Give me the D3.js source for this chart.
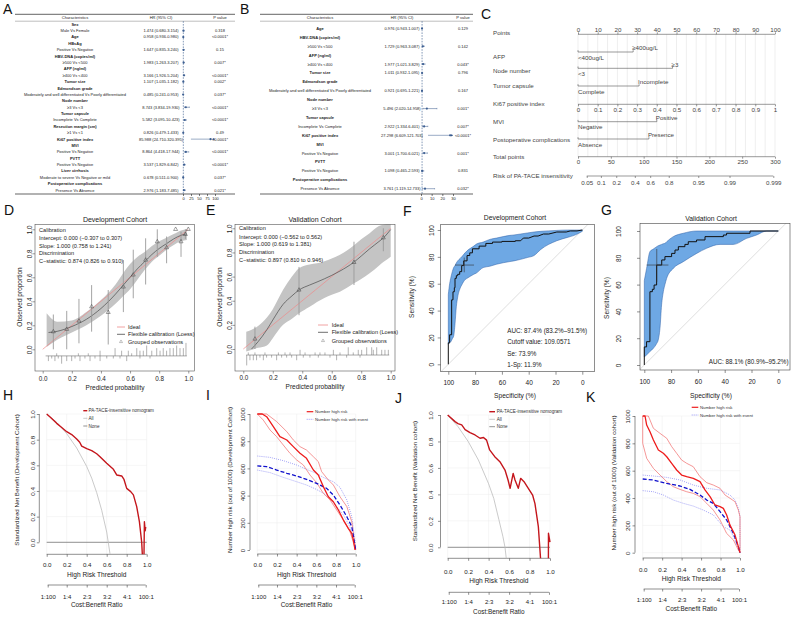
<!DOCTYPE html>
<html><head><meta charset="utf-8">
<script src="https://cdn.jsdelivr.net/npm/d3@7/dist/d3.min.js"></script>
<style>html,body{margin:0;padding:0;background:#fff;}svg{display:block;}</style>
</head><body>
<script>
// ================= DATA =================
// ---- A: univariate Cox ----
const aLabels = ["Sex","Male Vs Female","Age","HBsAg","Positive Vs Negative","HBV-DNA (copies/ml)","≥500 Vs <500","AFP (ng/ml)","≥400 Vs <400","Tumor size","Edmondson grade","Moderately and well differentiated Vs Poorly differentiated","Node number","≥3 Vs <3","Tumor capsule","Incomplete Vs Complete","Resection margin (cm)","≥1 Vs <1","Ki67 positive index","MVI","Positive Vs Negative","PVTT","Positive Vs Negative","Liver cirrhosis","Moderate to severe Vs Negative or mild","Postoperative complications","Presence Vs Absence"];
const aBold = [1,0,1,1,0,1,0,1,0,1,1,0,1,0,1,0,1,0,1,1,0,1,0,1,0,1,0];
const aHR = [null,1.474,0.958,null,1.647,null,1.983,null,3.166,1.107,null,0.485,null,8.743,null,5.582,null,0.826,85.988,null,8.864,null,3.537,null,0.678,null,2.976];
const aLo = [null,0.680,0.936,null,0.835,null,1.263,null,1.926,1.035,null,0.241,null,3.834,null,3.095,null,0.479,24.710,null,4.418,null,1.829,null,0.511,null,1.183];
const aHi = [null,3.154,0.980,null,3.240,null,3.207,null,5.204,1.182,null,0.953,null,19.930,null,10.423,null,1.433,320.395,null,17.944,null,6.842,null,0.900,null,7.485];
const aP = [null,"0.318","<0.0001*",null,"0.15",null,"0.007*",null,"<0.0001*","0.002*",null,"0.037*",null,"<0.0001*",null,"<0.0001*",null,"0.49","<0.0001*",null,"<0.0001*",null,"<0.0001*",null,"0.037*",null,"0.021*"];
const aTicks = [0,25,50,75,100];

// ---- B: multivariate Cox ----
const bLabels = ["Age","HBV-DNA (copies/ml)","≥500 Vs <500","AFP (ng/ml)","≥400 Vs <400","Tumor size","Edmondson grade","Moderately and well differentiated Vs Poorly differentiated","Node number","≥3 Vs <3","Tumor capsule","Incomplete Vs Complete","Ki67 positive index","MVI","Positive Vs Negative","PVTT","Positive Vs Negative","Postoperative complications","Presence Vs Absence"];
const bBold = [1,1,0,1,0,1,1,0,1,0,1,0,1,1,0,1,0,1,0];
const bHR = [0.976,null,1.729,null,1.977,1.011,null,0.921,null,5.496,null,2.922,27.298,null,3.001,null,1.098,null,3.761];
const bLo = [0.943,null,0.963,null,1.021,0.932,null,0.695,null,2.020,null,1.334,6.609,null,1.700,null,0.465,null,1.119];
const bHi = [1.007,null,3.087,null,3.829,1.095,null,1.221,null,14.958,null,6.401,121.703,null,6.021,null,2.593,null,12.733];
const bP = ["0.129",null,"0.142",null,"0.043*","0.796",null,"0.167",null,"0.001*",null,"0.007*","<0.0001*",null,"0.001*",null,"0.831",null,"0.032*"];
const bTicks = [0,10,20,30];

// ---- C: nomogram ----
const nomRowNames = ["Points","AFP","Node number","Tumor capsule","Ki67 positive index","MVI","Postoperative complications","Total points","Risk of PA-TACE insensitivity"];
const catNames = ["AFP","Node number","Tumor capsule","MVI","Postoperative complications"];
const catLow = ["<400ug/L","<3","Complete","Negative","Absence"];
const catHigh = ["≥400ug/L","≥3","Incomplete","Positive","Presence"];
const catHighPts = [28,48,31,40,36];
const pointsTicks = [0,10,20,30,40,50,60,70,80,90,100];
const ki67Ticks = [0,0.1,0.2,0.3,0.4,0.5,0.6,0.7,0.8,0.9,1];
const ki67MaxPts = 100;
const totalTicks = [0,50,100,150,200,250,300];
const riskTicks = [0.05,0.1,0.2,0.4,0.6,0.8,0.95,0.99,0.999];
const riskIntercept = -3.405, riskSlope = 0.03467;   // logit(risk) = a + b * total points

// ---- D: calibration development ----
const dLoP = [0.04,0.1,0.2,0.3,0.4,0.5,0.55,0.6,0.65,0.7,0.75,0.8,0.85,0.9,0.95,0.99];
const dLoV = [0.14,0.15,0.19,0.25,0.34,0.46,0.53,0.60,0.67,0.73,0.79,0.84,0.88,0.92,0.95,0.96];
const dBandP = [0.027,0.1,0.2,0.3,0.4,0.5,0.55,0.6,0.65,0.7,0.75,0.8,0.85,0.9,0.95,0.99];
const dBandHi = [0.30,0.23,0.24,0.31,0.41,0.54,0.63,0.71,0.77,0.81,0.86,0.90,0.93,0.96,0.99,1.00];
const dBandLo = [0.02,0.08,0.14,0.20,0.28,0.38,0.44,0.50,0.58,0.66,0.73,0.78,0.83,0.87,0.90,0.91];
const dGP = [0.073,0.165,0.249,0.336,0.45,0.554,0.622,0.707,0.787,0.851,0.913,0.95,0.98,1.0];
const dGV = [0.147,0.167,0.236,0.355,0.308,0.52,0.62,0.744,0.897,0.847,1.0,0.897,0.958,1.0];
const dGLo = [0.0,0.0,0.05,0.147,0.04,0.31,0.425,0.54,0.77,0.717,1.0,0.77,0.92,1.0];
const dGHi = [0.29,0.32,0.42,0.535,0.494,0.744,0.83,0.925,1.0,0.94,1.0,0.98,1.0,1.0];
const dRugUpP = [0.096,0.245,0.313,0.394,0.497,0.542,0.588,0.611,0.646,0.668,0.691,0.714,0.749,0.783,0.806,0.828,0.851,0.874,0.897,0.92,0.943,0.966,0.984];
const dRugUpN = [1,1,1,2,3,2,2,1,3,2,2,4,2,3,2,3,2,3,3,4,3,3,5];
const dRugDnP = [0.039,0.062,0.084,0.107,0.13,0.165,0.199,0.222,0.256,0.29,0.325,0.359,0.394,0.44,0.485,0.531,0.577,0.668,0.737];
const dRugDnN = [2,1,2,1,3,2,2,1,2,1,2,1,2,1,1,1,2,1,1];
const dIntercept = [0.000,-0.307,0.307], dSlope = [1.000,0.758,1.241], dCstat = [0.874,0.826,0.910];

// ---- E: calibration validation ----
const eLoP = [0.056,0.1,0.16,0.2,0.27,0.33,0.378,0.45,0.5,0.6,0.656,0.751,0.8,0.857,0.92,0.95,1.0];
const eLoV = [0.0,0.06,0.16,0.24,0.37,0.44,0.489,0.53,0.555,0.61,0.646,0.72,0.77,0.83,0.89,0.92,0.99];
const eBandP = [0.02,0.1,0.16,0.2,0.27,0.33,0.378,0.45,0.5,0.6,0.656,0.751,0.8,0.857,0.92,0.95,1.0];
const eBandHi = [0.143,0.19,0.26,0.33,0.49,0.60,0.67,0.70,0.71,0.75,0.78,0.86,0.91,0.96,1.02,1.03,1.04];
const eBandLo = [-0.02,0.01,0.03,0.09,0.2,0.25,0.296,0.35,0.39,0.45,0.475,0.545,0.58,0.627,0.69,0.72,0.765];
const eGP = [0.079,0.378,0.751,0.95];
const eGV = [0.083,0.489,0.718,0.922];
const eGLo = [0.0,0.28,0.53,0.81];
const eGHi = [0.185,0.68,0.889,1.0];
const eRugUpP = [0.034,0.079,0.147,0.238,0.283,0.317,0.385,0.419,0.487,0.52,0.554,0.611,0.656,0.712,0.746,0.78,0.803,0.837,0.871,0.882,0.905,0.939,0.961,0.984];
const eRugUpN = [1,1,1,1,1,1,2,1,1,1,1,2,1,3,1,2,2,3,3,2,3,2,2,2];
const eRugDnP = [0.023,0.045,0.068,0.09,0.113,0.136,0.158,0.192,0.226,0.26,0.294,0.328,0.362,0.407,0.452,0.509,0.588,0.633,0.701,0.792];
const eRugDnN = [4,2,2,2,1,2,1,1,2,1,1,1,2,1,1,1,1,2,1,1];
const eIntercept = [0.000,-0.562,0.562], eSlope = [1.000,0.619,1.381], eCstat = [0.897,0.810,0.946];

// ---- F: ROC development ----
const fSpec = [100,100,99,99,97.5,97.5,96.5,96.5,95.5,95.5,95,95,94,94,93,93,91.5,91.5,90,90,88.5,88.5,86,86,84,84,82,82,77,77,72,72,67,67,60,60,50,50,46,44,40,36,33,29,25,19,12,9,4,0];
const fSens = [0,16,16,22,22,48,48,54,54,57,57,64,64,66,66,67,67,69,69,73.5,73.5,77,77,81,81,83,83,86,86,88,88,90,90,91,91,91.5,91.5,92,92,94,94,95.5,95.5,97,97,98.5,98.5,99.3,99.3,100];
const fBandSpec = [100,99,98,97,96,95,94,93,91,90,87.5,86,81,79,74,69,64,54,51,41,36,31,19,11,6,0];
const fBandLo = [15,16,17,19,21,30,43,50,57,59,63,64,67,68,72,73,74.5,76.5,77,79.5,81,85.5,92,94.5,96,99];
const fBandHi = [52,60,65,69,72,73.5,75.5,77,79,80,83,84.5,88,89.5,91,93,94,96,96.3,97.8,98.5,99,99.7,100,100,100];
const fAUC = [87.4,83.2,91.5], fCutoff = 109.0571, fSe = 73.9, fOneMinusSp = 11.9;
const fSeCI = [68.5,79.5], fSpCI = [80.8,95];

// ---- G: ROC validation ----
const gSpec = [100,100,98.3,98.3,95.8,95.8,94,94,92.7,92.7,90.8,90.8,87,87,84.6,84.6,79.6,79.6,77.1,77.1,74.6,74.6,69.7,69.7,67.2,67.2,61,61,54.7,54.7,41,41,38.6,38.6,21.1,21.1,0];
const gSens = [0,13.5,13.5,17.4,17.4,54.7,54.7,56.5,56.5,59.7,59.7,74.6,74.6,78.4,78.4,80.9,80.9,83.3,83.3,85.8,85.8,88.3,88.3,90,90,92,92,93.3,93.3,95.8,95.8,97,97,98.3,98.3,100,100];
const gBandSpec = [100,98.3,95.8,93.3,90.8,89.6,88.3,87.1,85.8,84.6,83.3,78.4,70.9,60.9,53.5,43.5,33.6,23.6,16.2,8.7,0];
const gBandLo = [6,7.5,10,12.4,16,18.7,27.4,44.8,54.7,60,64.7,72.1,77.1,83.3,87.1,90,90,94.5,97,100,100];
const gBandHi = [63,72,84.6,86.5,88.3,89,89.5,90,90.5,90.8,92,95.8,98.3,100,100,100,100,100,100,100,100];
const gAUC = [88.1,80.9,95.2], gSe = 74.6, gSp = 90.7;
const gSeCI = [62,86.6], gSpCI = [82,98.2];

// ---- H/J: decision curves ----
const cbThr = [0.01,0.2,0.4,0.6,0.8,0.99];
const cbLab = ["1:100","1:4","2:3","3:2","4:1","100:1"];
const hNomT = [0,0.05,0.1,0.15,0.2,0.25,0.3,0.33,0.35,0.4,0.45,0.5,0.533,0.6,0.667,0.7,0.75,0.773,0.8,0.84,0.867,0.9,0.927,0.95,0.96,0.972,0.977,0.985,0.99];
const hNomV = [1.0,0.965,0.927,0.895,0.862,0.84,0.805,0.78,0.75,0.73,0.714,0.69,0.667,0.616,0.569,0.525,0.517,0.49,0.42,0.395,0.37,0.278,0.161,0.0,-0.15,-0.15,0.16,0.09,0.12];
const hAllT = [0,0.1,0.2,0.3,0.4,0.45,0.5,0.55,0.6,0.633];
const hAllV = [1,0.935,0.847,0.735,0.591,0.50,0.387,0.25,0.08,-0.09];
const jNomT = [0,0.072,0.1,0.137,0.17,0.218,0.267,0.316,0.35,0.38,0.41,0.46,0.51,0.56,0.59,0.61,0.64,0.658,0.69,0.713,0.746,0.788,0.83,0.853,0.886,0.909,0.95,0.984,0.985,1.0];
const jNomV = [1.0,0.95,0.935,0.925,0.89,0.867,0.849,0.824,0.83,0.81,0.736,0.685,0.647,0.584,0.509,0.446,0.559,0.509,0.446,0.521,0.496,0.446,0.395,0.33,0.156,-0.1,-0.4,-0.2,0.106,0.04];
const jAllT = [0,0.1,0.2,0.3,0.4,0.45,0.5,0.54,0.56,0.575];
const jAllV = [1,0.913,0.80,0.66,0.48,0.37,0.21,0.08,0.0,-0.1];

// ---- I/K: clinical impact curves ----
const iRedT = [0,0.05,0.095,0.163,0.23,0.3,0.366,0.434,0.5,0.57,0.62,0.671,0.722,0.773,0.824,0.875,0.925,0.96,0.976,0.993];
const iRedV = [1000,1000,980,907,833,809,760,711,674,588,551,466,392,355,294,220,159,123,74,0];
const iRedHiT = [0,0.095,0.197,0.3,0.366,0.434,0.5,0.57,0.62,0.654,0.722,0.773,0.84,0.91,0.96,1];
const iRedHiV = [1000,1000,944,870,809,760,735,686,650,576,515,478,392,319,208,0];
const iRedLoT = [0,0.06,0.13,0.197,0.264,0.332,0.4,0.468,0.536,0.603,0.671,0.739,0.807,0.875,0.942,1];
const iRedLoV = [1000,956,882,833,772,711,662,625,551,495,417,368,294,220,135,0];
const iBlueT = [0,0.095,0.197,0.3,0.4,0.5,0.603,0.705,0.773,0.84,0.91,0.96,1];
const iBlueV = [618,613,588,564,544,520,490,453,404,331,245,172,0];
const iBlueHiT = [0,0.13,0.264,0.4,0.5,0.6,0.67,0.773,0.84,0.91,0.96,1];
const iBlueHiV = [691,681,657,625,593,564,534,502,461,368,245,25];
const iBlueLoT = [0,0.13,0.264,0.4,0.5,0.6,0.705,0.807,0.875,0.94,1];
const iBlueLoV = [588,569,534,502,478,446,404,319,257,172,0];

const kRedT = [0,0.024,0.041,0.075,0.11,0.161,0.212,0.247,0.298,0.349,0.4,0.452,0.52,0.589,0.64,0.692,0.743,0.795,0.829,0.863,0.897,0.949,0.983,1];
const kRedV = [1000,1000,934,885,824,751,727,702,654,605,568,556,544,520,459,410,349,337,324,276,202,129,44,0];
const kRedHiT = [0,0.058,0.11,0.178,0.247,0.298,0.349,0.4,0.452,0.52,0.589,0.658,0.726,0.795,0.846,0.897,0.949,0.983,1,1];
const kRedHiV = [1000,1000,910,873,837,776,727,678,654,629,556,512,495,471,422,398,373,312,263,0];
const kRedLoT = [0,0,0.041,0.11,0.178,0.247,0.315,0.384,0.452,0.52,0.589,0.658,0.726,0.795,0.863,0.932,0.983,1];
const kRedLoV = [1000,800,690,617,568,520,483,463,446,434,410,361,312,239,141,93,20,0];
const kBlueT = [0,0.11,0.247,0.384,0.486,0.589,0.658,0.726,0.795,0.863,0.932,0.983,1];
const kBlueV = [539,532,507,488,463,422,385,361,300,239,141,44,0];
const kBlueHiT = [0,0.11,0.247,0.384,0.52,0.658,0.795,0.897,0.949,0.983,1,1];
const kBlueHiV = [568,561,551,532,495,471,459,422,385,324,263,0];
const kBlueLoT = [0,0.11,0.212,0.315,0.418,0.52,0.623,0.726,0.829,0.897,0.949,0.983,1];
const kBlueLoV = [454,446,422,385,361,341,312,276,190,166,93,32,0];

// ================= DRAWING =================
const FONT = "'Liberation Sans', Arial, Helvetica, sans-serif";
const svg = d3.select("body").append("svg").attr("width",794).attr("height",617).attr("font-family",FONT);
svg.append("rect").attr("width",794).attr("height",617).attr("fill","#fff");
const f3 = d3.format(".3f"), f1 = d3.format(".1f");
let clipN = 0;
function clipRect(x,y,w,h){const id="cp"+(clipN++);svg.append("clipPath").attr("id",id).append("rect").attr("x",x).attr("y",y).attr("width",w).attr("height",h);return `url(#${id})`;}
function T(g,x,y,s,o={}){
  const t=g.append("text").attr("x",x).attr("y",y).text(s).attr("font-size",o.fs||6.5).attr("fill",o.fill||"#222").attr("text-anchor",o.a||"start");
  if(o.w) t.attr("font-weight",o.w);
  if(o.rot) t.attr("transform",`rotate(${o.rot},${x},${y})`);
  return t;
}
function L(g,x1,y1,x2,y2,c="#333",w=0.6,dash=null){
  const l=g.append("line").attr("x1",x1).attr("y1",y1).attr("x2",x2).attr("y2",y2).attr("stroke",c).attr("stroke-width",w);
  if(dash) l.attr("stroke-dasharray",dash);
  return l;
}
function rAxis(g,orient,scale,vals,fmt,pos,o={}){
  const ts=o.ts??2.5, pad=o.pad??1.5, fs=o.fs??6.5, col=o.col??"#333";
  const gen={bottom:d3.axisBottom,left:d3.axisLeft,top:d3.axisTop}[orient](scale).tickValues(vals).tickSize(ts).tickPadding(pad).tickSizeOuter(0);
  if(fmt) gen.tickFormat(fmt);
  const horiz = orient!=="left";
  const a=g.append("g").attr("transform",horiz?`translate(0,${pos})`:`translate(${pos},0)`).call(gen);
  a.attr("font-family",null).attr("font-size",null);
  a.select(".domain").remove();
  if(o.line!==false){
    const v0=scale(vals[0]), v1=scale(vals[vals.length-1]);
    if(horiz) L(a,v0,0,v1,0,col,o.lw??0.6); else L(a,0,v0,0,v1,col,o.lw??0.6);
  }
  a.selectAll(".tick line").attr("stroke",col).attr("stroke-width",o.lw??0.6);
  a.selectAll("text").attr("font-size",fs).attr("fill",o.tcol??"#222").attr("font-family",FONT);
  if(orient==="left"){
    a.selectAll("text").attr("x",null).attr("dy",null).attr("text-anchor","middle").attr("transform",`translate(${-(ts+pad)},0) rotate(-90)`);
  }
  return a;
}
function idx(n){return d3.range(n);}

// ---- panel letters ----
[["A",3,13.5],["B",240,13.5],["C",481,18.5],["D",4,215],["E",206,215],["F",403,215.5],["G",601,215],["H",3,400],["I",206,400],["J",395,403],["K",586,402]]
 .forEach(([s,x,y])=>T(svg,x,y,s,{fs:14,fill:"#111"}));

// ---- A & B forest tables ----
function forest(Lo,labels,bold,hr,lo,hi,pv,ticks){
  const g=svg.append("g");
  const xs=d3.scaleLinear().domain([ticks[0],ticks[ticks.length-1]]).range(Lo.rng);
  const top=ticks[ticks.length-1];
  L(g,Lo.x0,Lo.yTop,Lo.x1,Lo.yTop,"#222",0.7);
  L(g,Lo.x0,Lo.yHL,Lo.x1,Lo.yHL,"#444",0.35);
  L(g,Lo.x0,Lo.yBot,Lo.x1,Lo.yBot,"#222",0.7);
  const fs=Lo.fs;
  T(g,Lo.cLab,Lo.yHead,"Characteristics",{fs,a:"middle"});
  T(g,Lo.cHR,Lo.yHead,"HR (95% CI)",{fs,a:"middle"});
  T(g,Lo.cP,Lo.yHead,"P value",{fs,a:"middle"});
  L(g,xs(1),Lo.yHL,xs(1),Lo.yBot,"#34578a",0.6,"1.6,1.2");
  labels.forEach((lab,i)=>{
    const y=Lo.y0+i*Lo.dy, by=y+fs*0.35;
    T(g,Lo.cLab,by,lab,{fs,a:"middle",w:bold[i]?"bold":null});
    if(hr[i]==null) return;
    T(g,Lo.cHR,by,`${f3(hr[i])} (${f3(lo[i])}-${f3(hi[i])})`,{fs,a:"middle"});
    T(g,Lo.cP,by,pv[i],{fs,a:"middle"});
    const xa=xs(lo[i]), xb=xs(Math.min(hi[i],top));
    L(g,xa,y,xb,y,"#34578a",0.5);
    if(hi[i]>top) g.append("path").attr("d",`M${xb},${y}l-2,-1.1v2.2z`).attr("fill","#34578a");
    else { L(g,xa,y-0.7,xa,y+0.7,"#34578a",0.4); L(g,xb,y-0.7,xb,y+0.7,"#34578a",0.4); }
    g.append("circle").attr("cx",xs(hr[i])).attr("cy",y).attr("r",1.1).attr("fill","#3d5f92");
  });
  rAxis(g,"bottom",xs,ticks,d3.format("d"),Lo.yBot,{ts:2,pad:1.2,fs:4,col:"#222",line:false});
}
forest({x0:15,x1:235,yTop:14.3,yHead:19.0,yHL:21.2,yBot:194,y0:24.3,dy:6.38,cLab:75,cHR:161,cP:220,rng:[183,215],fs:4},aLabels,aBold,aHR,aLo,aHi,aP,aTicks);
forest({x0:260,x1:473,yTop:14.3,yHead:19.0,yHL:21.2,yBot:194,y0:28.5,dy:8.9,cLab:320,cHR:402,cP:463,rng:[421,453],fs:4},bLabels,bBold,bHR,bLo,bHi,bP,bTicks);

// ---- C nomogram ----
(function(){
  const g=svg.append("g");
  const px=d3.scaleLinear().domain([0,100]).range([578,775]);
  const tx=d3.scaleLinear().domain([0,300]).range([578,775]);
  const col="#555", fs=6.2, tfs=6.2;
  d3.range(0,100.01,5).forEach(v=>L(g,px(v),34.3,px(v),156.7,"#dcdcdc",0.5));
  const labY=[33.3,56.7,70.7,86,104.3,121.7,140,157,176];
  nomRowNames.forEach((s,i)=>T(g,493,labY[i]+fs*0.35,s,{fs,fill:"#444"}));
  rAxis(g,"top",px,pointsTicks,d3.format("d"),34.3,{ts:2,pad:0.3,fs:tfs,col,tcol:"#444"});
  const catY=[52,68.3,86,121.7,139];
  catNames.forEach((nm,i)=>{
    const y=catY[i], xe=px(catHighPts[i]);
    L(g,px(0),y,xe,y,col,0.6);
    L(g,px(0),y,px(0),y-1.8,col,0.6); L(g,xe,y,xe,y-1.8,col,0.6);
    T(g,px(0),y+7.6,catLow[i],{fs:tfs,fill:"#444"});
    T(g,xe-1,y-1.8,catHigh[i],{fs:tfs,fill:"#444"});
  });
  const kx=d3.scaleLinear().domain([0,1]).range([px(0),px(ki67MaxPts)]);
  rAxis(g,"bottom",kx,ki67Ticks,d=>(d===0||d===1)?d3.format("d")(d):f1(d),104.3,{ts:2,pad:1.4,fs:tfs,col,tcol:"#444"});
  rAxis(g,"bottom",tx,totalTicks,d3.format("d"),156.7,{ts:2,pad:0.8,fs:tfs,col,tcol:"#444"});
  const lx=d3.scaleLinear().domain([riskIntercept,riskIntercept+riskSlope*300]).range(tx.range());
  const logit=p=>Math.log(p/(1-p));
  rAxis(g,"bottom",lx,riskTicks.map(logit),(d,i)=>String(riskTicks[i]),176,{ts:2,pad:2.8,fs:tfs,col,tcol:"#444"});
})();

// ---- D / E calibration ----
function calib(Lc,d){
  const g=svg.append("g");
  const x=d3.scaleLinear().domain([0,1]).range([Lc.x0,Lc.x1]);
  const y=d3.scaleLinear().domain([0,1]).range([Lc.y0,Lc.y1]);
  const pg=g.append("g").attr("clip-path",clipRect(Lc.fx0,Lc.fy0,Lc.fx1-Lc.fx0,Lc.fy1-Lc.fy0));
  pg.append("path").attr("d",d3.area().x(i=>x(d.bandP[i])).y0(i=>y(d.bandLo[i])).y1(i=>y(d.bandHi[i])).curve(d3.curveMonotoneX)(idx(d.bandP.length))).attr("fill","#c4c4c4");
  pg.append("path").attr("d",d3.line().x(v=>x(v)).y(v=>y(v))([0,1])).attr("stroke","#ee8a8a").attr("stroke-width",0.7).attr("fill","none");
  pg.append("path").attr("d",d3.line().x(i=>x(d.loP[i])).y(i=>y(d.loV[i])).curve(d3.curveMonotoneX)(idx(d.loP.length))).attr("stroke","#4a4a4a").attr("stroke-width",0.7).attr("fill","none");
  d.gP.forEach((p,i)=>{ if(d.gHi[i]>d.gLo[i]) L(pg,x(p),y(d.gLo[i]),x(p),y(d.gHi[i]),"#9a9a9a",0.9); });
  d.gP.forEach((p,i)=>pg.append("path").attr("d",d3.symbol(d3.symbolTriangle,7)()).attr("transform",`translate(${x(p)},${y(d.gV[i])})`).attr("fill","none").attr("stroke","#444").attr("stroke-width",0.5));
  const ry=y(d.rugBase), rl=d3.scaleLinear().domain([0,1]).range([0,2.6]);
  L(pg,x(0.02),ry,x(0.99),ry,"#555",0.5);
  d.upP.forEach((p,i)=>L(pg,x(p),ry,x(p),ry-rl(d.upN[i]),"#666",0.5));
  d.dnP.forEach((p,i)=>L(pg,x(p),ry,x(p),ry+rl(d.dnN[i]),"#666",0.5));
  g.append("rect").attr("x",Lc.fx0).attr("y",Lc.fy0).attr("width",Lc.fx1-Lc.fx0).attr("height",Lc.fy1-Lc.fy0).attr("fill","none").attr("stroke","#555").attr("stroke-width",0.6);
  const tk=[0,0.2,0.4,0.6,0.8,1];
  rAxis(g,"bottom",x,tk,f1,Lc.fy1,{ts:2.5,pad:Lc.xpad,fs:6.3,col:"#555",line:false});
  rAxis(g,"left",y,tk,f1,Lc.fx0,{ts:2.5,pad:0.2,fs:6.3,col:"#555",line:false});
  T(g,Lc.cx,Lc.titleY,d.title,{fs:7,a:"middle"});
  T(g,Lc.cx,Lc.xlabY,"Predicted probability",{fs:6.5,a:"middle"});
  T(g,Lc.ylabX,Lc.ylabCY,"Observed proportion",{fs:6.5,a:"middle",rot:-90});
  const st=["Calibration",`Intercept: ${f3(d.icpt[0])} (${f3(d.icpt[1])} to ${f3(d.icpt[2])})`,`Slope: ${f3(d.slope[0])} (${f3(d.slope[1])} to ${f3(d.slope[2])})`,"Discrimination",`C\u2212statistic: ${f3(d.cstat[0])} (${f3(d.cstat[1])} to ${f3(d.cstat[2])})`];
  st.forEach((s,i)=>T(g,Lc.tx,Lc.ty[i]+2,s,{fs:5.6}));
  const ly=Lc.legY;
  L(g,Lc.legL[0],ly[0],Lc.legL[1],ly[0],"#ee8a8a",0.8);
  L(g,Lc.legL[0],ly[1],Lc.legL[1],ly[1],"#4a4a4a",0.8);
  g.append("path").attr("d",d3.symbol(d3.symbolTriangle,4)()).attr("transform",`translate(${(Lc.legL[0]+Lc.legL[1])/2},${ly[2]})`).attr("fill","none").attr("stroke","#888").attr("stroke-width",0.5);
  ["Ideal","Flexible calibration (Loess)","Grouped observations"].forEach((s,i)=>T(g,Lc.legT,ly[i]+2,s,{fs:5.6}));
}
calib({fx0:35,fy0:224.3,fx1:194.3,fy1:371,x0:42.7,x1:188.3,y0:349.3,y1:229.3,cx:115,titleY:222.3,xlabY:390,ylabX:22.3,ylabCY:297,xpad:3,tx:39,ty:[230,237.7,245.7,253.3,261],legL:[117,125],legT:128,legY:[327,334.3,341.7]},
  {title:"Development Cohort",bandP:dBandP,bandLo:dBandLo,bandHi:dBandHi,loP:dLoP,loV:dLoV,gP:dGP,gV:dGV,gLo:dGLo,gHi:dGHi,rugBase:-0.055,upP:dRugUpP,upN:dRugUpN,dnP:dRugDnP,dnN:dRugDnN,icpt:dIntercept,slope:dSlope,cstat:dCstat});
calib({fx0:235,fy0:224.3,fx1:395,fy1:371,x0:243.3,x1:390.7,y0:349,y1:228.3,cx:315,titleY:222.3,xlabY:389,ylabX:222.3,ylabCY:297,xpad:2,tx:239,ty:[228.3,236.7,244.3,252.3,260],legL:[318,328],legT:331.7,legY:[325,332.3,340.7]},
  {title:"Validation Cohort",bandP:eBandP,bandLo:eBandLo,bandHi:eBandHi,loP:eLoP,loV:eLoV,gP:eGP,gV:eGV,gLo:eGLo,gHi:eGHi,rugBase:-0.05,upP:eRugUpP,upN:eRugUpN,dnP:eRugDnP,dnN:eRugDnN,icpt:eIntercept,slope:eSlope,cstat:eCstat});

// ---- F / G ROC ----
function roc(Lr,d){
  const g=svg.append("g");
  const x=d3.scaleLinear().domain([100,0]).range([Lr.x100,Lr.x0]);
  const y=d3.scaleLinear().domain([0,100]).range([Lr.y0,Lr.y100]);
  const pg=g.append("g").attr("clip-path",clipRect(Lr.fx0,Lr.fy0,Lr.fx1-Lr.fx0,Lr.fy1-Lr.fy0));
  L(pg,x(130),y(-30),x(-30),y(130),"#c8c8c8",0.6);
  pg.append("path").attr("d",d3.area().x(i=>x(d.bSpec[i])).y0(i=>y(d.bLo[i])).y1(i=>y(d.bHi[i])).curve(d3.curveMonotoneX)(idx(d.bSpec.length))).attr("fill","#6ea8e4").attr("stroke","#2d5fa6").attr("stroke-width",0.5);
  pg.append("path").attr("d",d3.line().x(i=>x(d.spec[i])).y(i=>y(d.sens[i]))(idx(d.spec.length))).attr("fill","none").attr("stroke","#111").attr("stroke-width",1);
  L(pg,x(d.spCI[0]),y(d.se),x(d.spCI[1]),y(d.se),"#333",0.6);
  L(pg,x(d.sp),y(d.seCI[0]),x(d.sp),y(d.seCI[1]),"#333",0.6);
  g.append("rect").attr("x",Lr.fx0).attr("y",Lr.fy0).attr("width",Lr.fx1-Lr.fx0).attr("height",Lr.fy1-Lr.fy0).attr("fill","none").attr("stroke","#444").attr("stroke-width",0.6);
  rAxis(g,"bottom",x,[100,80,60,40,20,0],d3.format("d"),Lr.fy1,{ts:3,pad:Lr.xpad,fs:6.5,col:"#444",line:false});
  rAxis(g,"left",y,[0,20,40,60,80,100],d3.format("d"),Lr.fx0,{ts:3,pad:Lr.ypad,fs:6.5,col:"#444",line:false});
  T(g,Lr.cx,Lr.titleY,d.title,{fs:6.8,a:"middle"});
  T(g,Lr.cx,Lr.xlabY,"Specificity (%)",{fs:6.6,a:"middle"});
  T(g,Lr.ylabX,Lr.ylabCY,"Sensitivity (%)",{fs:6.6,a:"middle",rot:-90});
  d.texts.forEach((s,i)=>T(g,Lr.tx,Lr.ty[i]+2.2,s,{fs:6.3,a:Lr.ta}));
}
const pct=v=>f1(v)+"%";
roc({fx0:440.7,fy0:224.3,fx1:594.3,fy1:371.7,x100:448.3,x0:582.3,y0:364.3,y100:230,cx:515,titleY:220,xlabY:397.5,ylabX:414,ylabCY:297,xpad:5.2,ypad:3.4,tx:507.3,ty:[331,341.7,353.3,364.3],ta:"start"},
  {title:"Development Cohort",spec:fSpec,sens:fSens,bSpec:fBandSpec,bLo:fBandLo,bHi:fBandHi,se:fSe,sp:100-fOneMinusSp,seCI:fSeCI,spCI:fSpCI,
   texts:[`AUC: ${pct(fAUC[0])} (${pct(fAUC[1])}\u2013${pct(fAUC[2])})`,`Cutoff value: ${fCutoff}`,`Se: ${pct(fSe)}`,`1-Sp: ${pct(fOneMinusSp)}`]});
roc({fx0:640,fy0:223.3,fx1:790,fy1:370,x100:644.3,x0:778.3,y0:365,y100:231,cx:711,titleY:220.5,xlabY:397.5,ylabX:609,ylabCY:298,xpad:6.8,ypad:16.4,tx:788.5,ty:[361.7],ta:"end"},
  {title:"Validation Cohort",spec:gSpec,sens:gSens,bSpec:gBandSpec,bLo:gBandLo,bHi:gBandHi,se:gSe,sp:gSp,seCI:gSeCI,spCI:gSpCI,
   texts:[`AUC: ${pct(gAUC[0])} (${pct(gAUC[1])}\u2013${pct(gAUC[2])})`]});

// ---- H-K decision / impact curves ----
function cbAxis(g,x,Ld){
  rAxis(g,"bottom",x,cbThr,(d,i)=>cbLab[i],Ld.cbY,{ts:2.5,pad:Ld.cbPad,fs:6,col:"#444"});
  T(g,(Ld.x0+Ld.x1)/2,Ld.cbTitleY+2.2,"Cost:Benefit Ratio",{fs:6.4,a:"middle"});
}
function dcaFrame(g,x,y,Ld,yt,yfmt,ylab){
  const xt=[0,0.2,0.4,0.6,0.8,1];
  xt.forEach(v=>L(g,x(v),Ld.xAxisY,x(v),Ld.yTopPx,"#ececec",0.5));
  yt.forEach(v=>L(g,x(0),y(v),x(1),y(v),"#ececec",0.5));
  rAxis(g,"bottom",x,xt,f1,Ld.xAxisY,{ts:2.5,pad:Ld.xpad,fs:6.2,col:"#444"});
  rAxis(g,"left",y,yt,yfmt,Ld.yAxisX,{ts:2.5,pad:Ld.ypad,fs:6.2,col:"#444"});
  T(g,(Ld.x0+Ld.x1)/2,Ld.xlabY+2.2,"High Risk Threshold",{fs:6.6,a:"middle"});
  T(g,Ld.ylabX+2.2,Ld.ylabCY,ylab,{fs:6.2,a:"middle",rot:-90});
  cbAxis(g,x,Ld);
}
function path(g,x,y,T_,V_,col,w,dash){
  const p=g.append("path").attr("d",d3.line().x(i=>x(T_[i])).y(i=>y(V_[i]))(idx(T_.length))).attr("fill","none").attr("stroke",col).attr("stroke-width",w).attr("stroke-linejoin","round");
  if(dash) p.attr("stroke-dasharray",dash);
}
function dcaNB(Ld,nomT,nomV,allT,allV,ylab){
  const g=svg.append("g");
  const x=d3.scaleLinear().domain([0,1]).range([Ld.x0,Ld.x1]);
  const y=d3.scaleLinear().domain([0,1]).range([Ld.yv0,Ld.yv1]);
  Ld.yTopPx=y(1);
  dcaFrame(g,x,y,Ld,[0,0.2,0.4,0.6,0.8,1],f1,ylab);
  const pg=g.append("g").attr("clip-path",clipRect(x(-0.02),y(1.05),x(1.03)-x(-0.02),Ld.xAxisY-y(1.05)));
  path(pg,x,y,[0,1],[0,0],"#777",0.8);
  path(pg,x,y,allT,allV,"#bdbdbd",0.8);
  path(pg,x,y,nomT,nomV,"#c4161c",1.4);
  const lg=Ld.leg, names=["PA-TACE-insensitive nomogram","All","None"], cols=["#c4161c","#bdbdbd","#777"], ws=[1.4,0.8,0.8];
  names.forEach((s,i)=>{L(g,lg.l0,lg.y[i],lg.l1,lg.y[i],cols[i],ws[i]);T(g,lg.t,lg.y[i]+1.6,s,{fs:4.6,fill:"#333"});});
}
function dcaCI(Ld,d,ylab){
  const g=svg.append("g");
  const x=d3.scaleLinear().domain([0,1]).range([Ld.x0,Ld.x1]);
  const y=d3.scaleLinear().domain([0,1000]).range([Ld.yv0,Ld.yv1]);
  Ld.yTopPx=y(1000);
  dcaFrame(g,x,y,Ld,[0,200,400,600,800,1000],d3.format("d"),ylab);
  const pg=g.append("g").attr("clip-path",clipRect(x(-0.02),y(1010),x(1.03)-x(-0.02),Ld.xAxisY-y(1010)));
  path(pg,x,y,d.blT,d.blV,"#7d7df2",0.7,"1,1.1");
  path(pg,x,y,d.bhT,d.bhV,"#7d7df2",0.7,"1,1.1");
  path(pg,x,y,d.rlT,d.rlV,"#f06a6a",0.7);
  path(pg,x,y,d.rhT,d.rhV,"#f06a6a",0.7);
  path(pg,x,y,d.bT,d.bV,"#1010cc",1.3,"4,2");
  path(pg,x,y,d.rT,d.rV,"#ee1c1c",1.3);
  const lg=Ld.leg;
  L(g,lg.l0,lg.y[0],lg.l1,lg.y[0],"#ee1c1c",1.2);
  L(g,lg.l0,lg.y[1],lg.l1,lg.y[1],"#7d7df2",0.8,"1,1");
  T(g,lg.t,lg.y[0]+1.5,"Number high risk",{fs:4.3,fill:"#333"});
  T(g,lg.t,lg.y[1]+1.5,"Number high risk with event",{fs:4.3,fill:"#333"});
}
dcaNB({x0:46.7,x1:146.7,yv0:542.3,yv1:414,yAxisX:39.3,xAxisY:554.3,xpad:6,ypad:1.4,xlabY:575,ylabX:16.7,ylabCY:480,cbY:585,cbPad:7,cbTitleY:605,
  leg:{l0:83.3,l1:87.3,t:88.5,y:[410.7,418.3,426]}},hNomT,hNomV,hAllT,hAllV,"Standardized Net Benefit (Development Cohort)");
dcaCI({x0:257.3,x1:355.7,yv0:550,yv1:414,yAxisX:250,xAxisY:554,xpad:6.3,ypad:2.1,xlabY:575,ylabX:229.3,ylabCY:480,cbY:585,cbPad:7,cbTitleY:605,
  leg:{l0:306.7,l1:313.3,t:315,y:[411.7,419.3]}},
  {rT:iRedT,rV:iRedV,rhT:iRedHiT,rhV:iRedHiV,rlT:iRedLoT,rlV:iRedLoV,bT:iBlueT,bV:iBlueV,bhT:iBlueHiT,bhV:iBlueHiV,blT:iBlueLoT,blV:iBlueLoV},"Number high risk (out of 1000) (Development Cohort)");
dcaNB({x0:447.7,x1:550,yv0:547.3,yv1:415,yAxisX:440.5,xAxisY:558.3,xpad:8.5,ypad:5,xlabY:581,ylabX:415,ylabCY:481,cbY:592.3,cbPad:4.5,cbTitleY:611.7,
  leg:{l0:489.3,l1:495,t:496.7,y:[411.7,419.3,426.7]}},jNomT,jNomV,jAllT,jAllV,"Standardized Net Benefit (Validation cohort)");
dcaCI({x0:642.7,x1:740,yv0:552.7,yv1:416,yAxisX:635,xAxisY:558,xpad:6.7,ypad:2.1,xlabY:578.3,ylabX:613.3,ylabCY:483,cbY:589,cbPad:6.2,cbTitleY:608.3,
  leg:{l0:691.7,l1:698.3,t:700,y:[407.3,415]}},
  {rT:kRedT,rV:kRedV,rhT:kRedHiT,rhV:kRedHiV,rlT:kRedLoT,rlV:kRedLoV,bT:kBlueT,bV:kBlueV,bhT:kBlueHiT,bhV:kBlueHiV,blT:kBlueLoT,blV:kBlueLoV},"Number high risk (out of 1000) (Validation cohort)");
</script>
</body></html>
